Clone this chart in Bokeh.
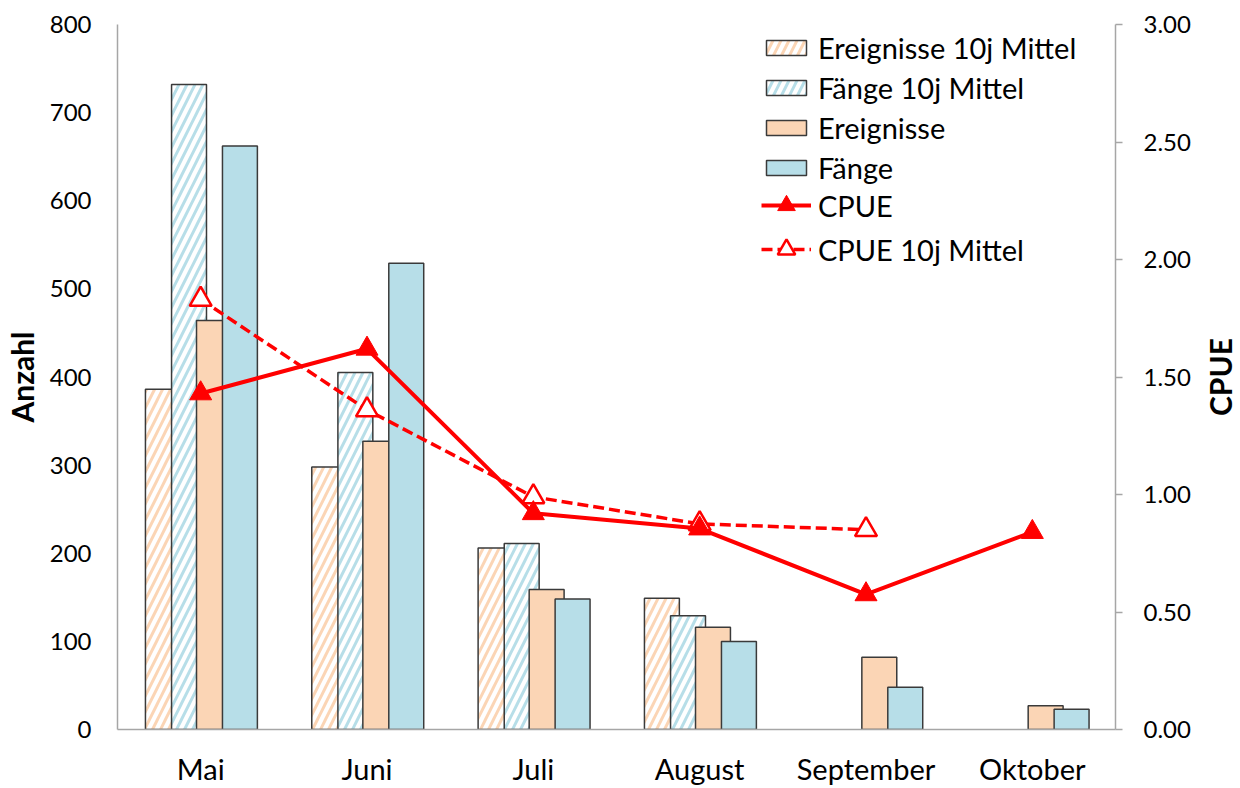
from math import pi
from bokeh.plotting import figure
from bokeh.layouts import row
from bokeh.models import (FactorRange, Range1d, LinearAxis, Legend, LegendItem,
                          ColumnDataSource, NumeralTickFormatter)
from bokeh.core.properties import value
from bokeh.transform import dodge
from bokeh.embed import file_html
from bokeh.resources import INLINE

months = ["Mai", "Juni", "Juli", "August", "September", "Oktober"]
ereignisse_10j = [386, 298, 206, 149, None, None]
faenge_10j = [732, 405, 211, 129, None, None]
ereignisse = [464, 327, 159, 116, 82, 27]
faenge = [662, 529, 148, 100, 48, 23]
cpue = [1.43, 1.62, 0.92, 0.855, 0.575, 0.84]
cpue_10j = [1.83, 1.36, 0.99, 0.875, 0.85, None]
right_title = "CPUE"

FONT = "Lato"
ORANGE = "#FBD5B5"
BLUE = "#B7DEE8"
OUTLINE = "#3a3a3a"
RED = "#FF0000"
AXIS = "#A6A6A6"

def nan(v):
    return [float("nan") if x is None else x for x in v]

src = ColumnDataSource(dict(
    month=months,
    e10=nan(ereignisse_10j),
    f10=nan(faenge_10j),
    e=ereignisse,
    f=faenge,
    cpue=cpue,
    cpue10=nan(cpue_10j),
))

p = figure(width=1201, height=788, x_range=FactorRange(*months),
           y_range=Range1d(0, 800), output_backend="svg", toolbar_location=None,
           min_border_left=117, min_border_right=86, min_border_top=24,
           min_border_bottom=59)
p.extra_y_ranges = {"cpue": Range1d(0, 3)}
p.outline_line_color = None
p.xgrid.visible = False
p.ygrid.visible = False
p.background_fill_color = "white"
p.border_fill_color = "white"

bw = 0.21
r_e10 = p.vbar(x=dodge("month", -0.227, range=p.x_range), top="e10", width=bw, source=src,
               fill_color="white", line_color=OUTLINE, line_width=1.5,
               hatch_pattern="/", hatch_color=ORANGE, hatch_weight=3, hatch_scale=16)
r_f10 = p.vbar(x=dodge("month", -0.070, range=p.x_range), top="f10", width=bw, source=src,
               fill_color="white", line_color=OUTLINE, line_width=1.5,
               hatch_pattern="/", hatch_color=BLUE, hatch_weight=3, hatch_scale=16)
r_e = p.vbar(x=dodge("month", 0.080, range=p.x_range), top="e", width=bw, source=src,
             fill_color=ORANGE, line_color=OUTLINE, line_width=1.5)
r_f = p.vbar(x=dodge("month", 0.236, range=p.x_range), top="f", width=bw, source=src,
             fill_color=BLUE, line_color=OUTLINE, line_width=1.5)

l_c10 = p.line(x="month", y="cpue10", source=src, y_range_name="cpue",
               line_color=RED, line_width=3.5, line_dash="11 5")
s_c10 = p.scatter(x="month", y="cpue10", source=src, y_range_name="cpue",
                  marker="triangle", size=22, fill_color="white", line_color=RED,
                  line_width=2.5)
l_c = p.line(x="month", y="cpue", source=src, y_range_name="cpue",
             line_color=RED, line_width=4)
s_c = p.scatter(x="month", y="cpue", source=src, y_range_name="cpue",
                marker="triangle", size=22, fill_color=RED, line_color=RED,
                line_width=1)

xa = p.xaxis[0]
xa.axis_line_color = AXIS
xa.axis_line_width = 1.5
xa.major_tick_line_color = None
xa.major_tick_out = 0
xa.minor_tick_line_color = None
xa.major_label_text_font = FONT
xa.major_label_text_font_size = "29px"
xa.major_label_text_color = "black"
xa.major_label_standoff = 21

ya = p.yaxis[0]
ya.axis_line_color = AXIS
ya.axis_line_width = 1.5
ya.major_tick_line_color = None
ya.major_tick_out = 0
ya.minor_tick_line_color = None
ya.major_label_text_font = FONT
ya.major_label_text_font_size = "24px"
ya.major_label_text_color = "black"
ya.major_label_standoff = 22
ya.ticker.desired_num_ticks = 9
ya.axis_label = "Anzahl"
ya.axis_label_text_font = FONT
ya.axis_label_text_font_size = "30px"
ya.axis_label_text_font_style = "bold"
ya.axis_label_text_color = "black"
ya.axis_label_standoff = 7

ra = LinearAxis(y_range_name="cpue", formatter=NumeralTickFormatter(format="0.00"))
ra.ticker.desired_num_ticks = 7
ra.axis_line_color = AXIS
ra.axis_line_width = 1.5
ra.major_tick_line_color = AXIS
ra.major_tick_line_width = 1.5
ra.major_tick_out = 7
ra.major_tick_in = 0
ra.minor_tick_line_color = None
ra.major_label_text_font = FONT
ra.major_label_text_font_size = "24px"
ra.major_label_text_color = "black"
ra.major_label_standoff = 21
p.add_layout(ra, "right")

def style_legend(lg):
    lg.border_line_color = None
    lg.background_fill_alpha = 0
    lg.padding = 0
    lg.margin = 0
    lg.glyph_width = 50
    lg.label_standoff = 7
    lg.label_text_font = FONT
    lg.label_text_font_size = "29px"
    lg.label_text_color = "black"

legend_bars = Legend(items=[
    LegendItem(label="Ereignisse 10j Mittel", renderers=[r_e10]),
    LegendItem(label="Fänge 10j Mittel", renderers=[r_f10]),
    LegendItem(label="Ereignisse", renderers=[r_e]),
    LegendItem(label="Fänge", renderers=[r_f]),
], location=(644, 544))
style_legend(legend_bars)
legend_bars.glyph_height = 19
legend_bars.label_height = 36
legend_bars.spacing = 4
p.add_layout(legend_bars)

legend_lines = Legend(items=[
    LegendItem(label="CPUE", renderers=[l_c, s_c]),
    LegendItem(label="CPUE 10j Mittel", renderers=[l_c10, s_c10]),
], location=(644, 458))
style_legend(legend_lines)
legend_lines.glyph_height = 44
legend_lines.label_height = 36
legend_lines.spacing = -4
p.add_layout(legend_lines)

# narrow strip to the right carrying the right-axis title (reads bottom-to-top)
p2 = figure(width=39, height=788, x_range=Range1d(0, 1), y_range=Range1d(0, 1),
            output_backend="svg", toolbar_location=None,
            x_axis_location=None, y_axis_location=None,
            min_border_left=0, min_border_right=0, min_border_top=24,
            min_border_bottom=59)
p2.outline_line_color = None
p2.background_fill_color = "white"
p2.border_fill_color = "white"
for g in p2.grid:
    g.visible = False
p2.text(x=[0.487], y=[0.5], text=[right_title], angle=pi / 2,
        text_font=value(FONT), text_font_size="30px", text_font_style="bold",
        text_color="black", text_align="center", text_baseline="middle")

layout = row(p, p2, spacing=0)
open("out.html", "w").write(file_html(layout, INLINE))
